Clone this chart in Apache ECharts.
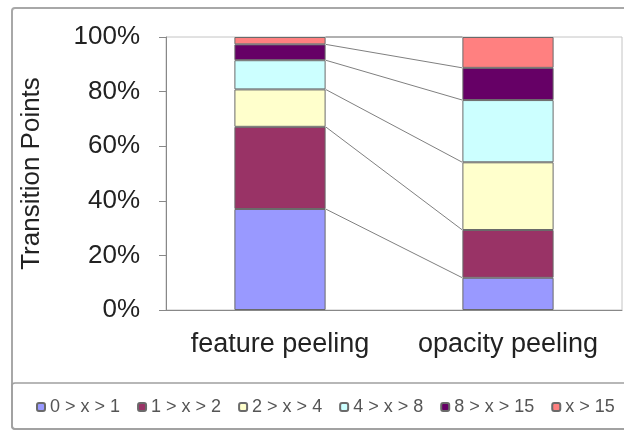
<!DOCTYPE html>
<html>
<head>
<meta charset="utf-8">
<script src="https://cdn.jsdelivr.net/npm/echarts@6/dist/echarts.min.js"></script>
<style>html,body{margin:0;padding:0;background:#fff}#c{width:624px;height:432px}</style>
</head>
<body>
<div id="c"></div>
<script>
var categories = ['feature peeling', 'opacity peeling'];
var seriesNames = ['0 > x > 1', '1 > x > 2', '2 > x > 4', '4 > x > 8', '8 > x > 15', 'x > 15'];
var s0 = [37.0, 11.8];
var s1 = [30.1, 17.5];
var s2 = [13.7, 24.8];
var s3 = [10.7, 22.8];
var s4 = [5.8, 11.8];
var s5 = [2.7, 11.3];
var yTicks = [0, 20, 40, 60, 80, 100];
var colors = ['#9999FF', '#993366', '#FFFFCC', '#CCFFFF', '#660066', '#FF8080'];

var allSeries = [s0, s1, s2, s3, s4, s5];
var barWidthRatio = 0.4;

// cumulative boundaries (tops of each segment) for Excel-like series lines
var boundaries = [];
var c0 = 0, c1 = 0;
for (var i = 0; i < allSeries.length; i++) {
  c0 += allSeries[i][0];
  c1 += allSeries[i][1];
  boundaries.push([0, c0, c1]);
}

var series = allSeries.map(function (arr, i) {
  return {
    name: seriesNames[i],
    type: 'bar',
    stack: 'total',
    barWidth: (barWidthRatio * 100) + '%',
    data: arr,
    itemStyle: { color: colors[i], borderColor: '#6a6a6a', borderWidth: 1 },
    emphasis: { disabled: true }
  };
});

series.push({
  type: 'custom',
  name: 'seriesLines',
  silent: true,
  encode: { x: 0, y: 1 },
  data: boundaries,
  renderItem: function (params, api) {
    var v1 = api.value(1), v2 = api.value(2);
    var p1 = api.coord([0, v1]);
    var p2 = api.coord([1, v2]);
    var half = api.size([1, 0])[0] * barWidthRatio / 2;
    return {
      type: 'line',
      shape: { x1: p1[0] + half, y1: p1[1], x2: p2[0] - half, y2: p2[1] },
      style: { stroke: '#808080', lineWidth: 1 }
    };
  }
});

var chart = echarts.init(document.getElementById('c'));
chart.setOption({
  animation: false,
  backgroundColor: '#ffffff',
  grid: {
    left: 166, right: 2, top: 37, bottom: 122,
    show: true, borderColor: '#c4c4c4', borderWidth: 1, backgroundColor: 'transparent'
  },
  legend: {
    data: seriesNames,
    left: 36,
    top: 398,
    width: 588,
    padding: 0,
    itemWidth: 8,
    itemHeight: 8,
    itemGap: 17,
    textStyle: { fontFamily: 'Liberation Sans, Arial', fontSize: 18, color: '#555' },
    selectedMode: false
  },
  xAxis: {
    type: 'category',
    data: categories,
    axisLine: { lineStyle: { color: '#888', width: 1 } },
    axisTick: { show: false },
    axisLabel: { interval: 0, hideOverlap: false, fontFamily: 'Liberation Sans, Arial', fontSize: 27, color: '#222', margin: 21 }
  },
  yAxis: {
    type: 'value',
    min: yTicks[0],
    max: yTicks[yTicks.length - 1],
    interval: yTicks[1] - yTicks[0],
    name: 'Transition Points',
    nameLocation: 'middle',
    nameGap: 121,
    nameRotate: 90,
    nameTextStyle: { fontFamily: 'Liberation Sans, Arial', fontSize: 26, color: '#222' },
    axisLine: { show: true, lineStyle: { color: '#888', width: 1 } },
    axisTick: { show: true, length: 7, lineStyle: { color: '#888' } },
    splitLine: { show: false },
    axisLabel: { fontFamily: 'Liberation Sans, Arial', fontSize: 26, color: '#222', margin: 26, formatter: '{value}%' }
  },
  graphic: [
    { type: 'rect', shape: { x: 12, y: 8, width: 640, height: 421, r: 3 }, style: { fill: 'none', stroke: '#a8a8a8', lineWidth: 2 }, silent: true },
    { type: 'rect', shape: { x: 12, y: 383, width: 640, height: 46, r: 3 }, style: { fill: 'none', stroke: '#a0a0a0', lineWidth: 1.5 }, silent: true }
  ],
  series: series
});
</script>
</body>
</html>
